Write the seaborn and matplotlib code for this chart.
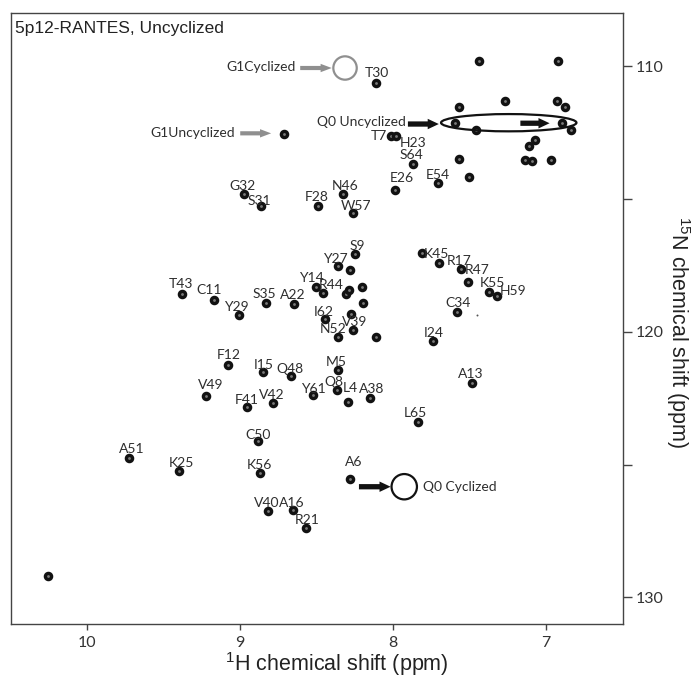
import matplotlib
matplotlib.use("Agg")
import matplotlib.pyplot as plt
import pandas as pd
import seaborn as sns
from matplotlib.patches import Ellipse

# ---------------- data ----------------
title = "5p12-RANTES, Uncyclized"
x_label = r"$^{1}$H chemical shift (ppm)"
y_label = r"$^{15}$N chemical shift (ppm)"

peak_labels = ["T30", "T7", "H23", "S64", "E26", "E54", "G32", "S31", "F28", "N46",
               "W57", "S9", "Y27", "Y14", "R44", "T43", "C11", "S35", "A22", "Y29",
               "I62", "V39", "N52", "K45", "R17", "R47", "K55", "H59", "C34", "I24",
               "A13", "L65", "F12", "I15", "Q48", "M5", "Q8", "Y61", "L4", "A38",
               "V49", "F41", "V42", "C50", "A51", "K25", "K56", "A6", "V40", "A16",
               "R21"]
peak_h = [8.113, 8.012, 7.984, 7.872, 7.991, 7.706, 8.974, 8.863, 8.491, 8.331,
          8.261, 8.250, 8.363, 8.506, 8.461, 9.380, 9.174, 8.830, 8.648, 9.007,
          8.446, 8.265, 8.363, 7.815, 7.700, 7.560, 7.374, 7.322, 7.580, 7.739,
          7.482, 7.841, 9.080, 8.848, 8.667, 8.359, 8.369, 8.526, 8.297, 8.152,
          9.224, 8.956, 8.787, 8.885, 9.729, 9.402, 8.870, 8.282, 8.819, 8.656,
          8.569]
peak_n = [110.64, 112.62, 112.62, 113.67, 114.67, 114.40, 114.79, 115.25, 115.24, 114.82,
          115.51, 117.05, 117.53, 118.31, 118.52, 118.56, 118.78, 118.91, 118.96, 119.37,
          119.53, 119.91, 120.19, 117.03, 117.41, 117.64, 118.50, 118.65, 119.25, 120.35,
          121.92, 123.41, 121.25, 121.50, 121.67, 121.44, 122.17, 122.38, 122.63, 122.48,
          122.42, 122.82, 122.67, 124.11, 124.74, 125.24, 125.32, 125.54, 126.73, 126.70,
          127.39]

# label offsets from their peak (pixels)
label_dx = [1, -13, 17, -1, 7, 0, -1.5, -2, -1.5, 2.2,
            3.2, 2, -2.7, -4.2, 8.8, -0.7, -4.3, -2, -1, -2.5,
            -1, 2, -4.7, 15, 20.2, 16.8, 3.7, 16.5, 0.3, 0.7,
            -1.4, -2.4, 0.3, 0, -1.7, -1.6, -2.7, 0.3, 2.8, 1.7,
            4.3, 0, -1, 0.6, 3.4, 2.7, -1, 3.3, -1.7, -0.7,
            0.7]
label_dy = [-11.2, -1.5, 5.7, -9.8, -13.3, -9.4, -9, -6.3, -10, -10,
            -8.3, -8.3, -8.5, -10.2, -8.3, -10.8, -10.3, -10.2, -10, -9,
            -8.3, -8.3, -9.2, -0.2, -3.7, 0, -10.7, -6, -10, -9.3,
            -10.2, -10.6, -11, -7.7, -8.5, -9, -8.3, -7.5, -14.7, -10.2,
            -12, -7.9, -8.7, -7, -10.2, -9, -9.3, -18, -9, -8.3,
            -9.3]

other_h = [8.711, 8.282, 8.309, 8.287, 8.206, 8.196, 8.276, 8.113, 7.511, 10.257,
           7.439, 6.924, 7.569, 7.271, 6.928, 6.875, 7.598, 7.462, 6.895, 6.836,
           7.076, 7.113, 7.569, 7.141, 7.093, 6.967, 7.504]
other_n = [112.53, 117.65, 118.56, 118.43, 118.31, 118.91, 119.31, 120.19, 118.12, 129.21,
           109.79, 109.79, 111.52, 111.32, 111.32, 111.52, 112.14, 112.39, 112.14, 112.39,
           112.76, 113.01, 113.48, 113.51, 113.55, 113.51, 114.15]

noise_h = [7.452]
noise_n = [119.37]

x_ticks = [10, 9, 8, 7]
y_ticks = [110, 115, 120, 125, 130]
y_tick_labels = ["110", "", "120", "", "130"]

# ---------------- style ----------------
sns.set_style("white")
plt.rcParams["font.family"] = ["Liberation Sans", "DejaVu Sans"]
plt.rcParams["mathtext.fontset"] = "custom"
plt.rcParams["mathtext.rm"] = "Liberation Sans"
plt.rcParams["mathtext.it"] = "Liberation Sans:italic"
plt.rcParams["mathtext.bf"] = "Liberation Sans:bold"

label_font = "Lato"
dark = "#121212"
txt = "#2e2e2e"
grey = "#8f8f8f"

fig = plt.figure(figsize=(6.92, 6.79), dpi=100)
ax = fig.add_axes([0.0155, 0.0810, 0.8844, 0.8994])

peaks = pd.DataFrame({"H": peak_h + other_h, "N": peak_n + other_n})
sns.scatterplot(data=peaks, x="H", y="N", ax=ax, s=20, color="#7a7a7a",
                edgecolor=dark, linewidth=2.4, zorder=3, legend=False)
noise = pd.DataFrame({"H": noise_h, "N": noise_n})
sns.scatterplot(data=noise, x="H", y="N", ax=ax, s=2, color="#555555",
                linewidth=0, zorder=3, legend=False)

px2pt = 0.72
for lab, h, n, dx, dy in zip(peak_labels, peak_h, peak_n, label_dx, label_dy):
    ax.annotate(lab, (h, n), xytext=(dx * px2pt, -dy * px2pt - 0.8),
                textcoords="offset points", ha="center", va="center",
                fontsize=10, color=txt, family=label_font, zorder=4)

# ---------------- annotations ----------------
def arrow(x0, x1, y, color, tail=0.3, head_w=0.6, head_l=0.8):
    ax.annotate("", xy=(x1, y), xytext=(x0, y),
                arrowprops=dict(arrowstyle=f"simple,head_length={head_l},head_width={head_w},tail_width={tail}",
                                fc=color, ec=color, lw=0, mutation_scale=10,
                                shrinkA=0, shrinkB=0), zorder=5)

# G1 cyclized (grey)
ax.text(8.635, 110.02, "G1Cyclized", ha="right", va="center", fontsize=10,
        color=txt, family=label_font)
arrow(8.608, 8.402, 110.06, grey)
ax.add_patch(Ellipse((8.315, 110.06), 0.153, 0.88, fill=False, ec=grey, lw=1.6, zorder=5))

# G1 uncyclized (grey)
ax.text(9.033, 112.50, "G1Uncyclized", ha="right", va="center", fontsize=10,
        color=txt, family=label_font)
arrow(9.000, 8.798, 112.52, grey)

# Q0 uncyclized (black)
ax.text(7.917, 112.10, "Q0 Uncyclized", ha="right", va="center", fontsize=10,
        color=txt, family=label_font)
arrow(7.904, 7.702, 112.17, dark, tail=0.38, head_w=0.75)
ax.add_patch(Ellipse((7.245, 112.12), 0.885, 0.65, fill=False, ec=dark, lw=1.6, zorder=5))
arrow(7.169, 6.978, 112.14, dark, tail=0.38, head_w=0.75)

# Q0 cyclized (black)
arrow(8.224, 8.017, 125.83, dark, tail=0.38, head_w=0.75)
ax.add_patch(Ellipse((7.928, 125.83), 0.166, 0.955, fill=False, ec=dark, lw=1.6, zorder=5))
ax.text(7.804, 125.83, "Q0 Cyclized", ha="left", va="center", fontsize=10,
        color=txt, family=label_font)

# title
ax.text(0.007, 0.967, title, transform=ax.transAxes, ha="left", va="baseline",
        fontsize=12.5, color="#222222")

# ---------------- axes ----------------
ax.set_xlim(10.5, 6.5)
ax.set_ylim(131, 108)
ax.set_xlabel("")
ax.set_ylabel("")
ax.yaxis.tick_right()
ax.set_xticks(x_ticks)
ax.set_xticklabels([str(t) for t in x_ticks])
ax.set_yticks(y_ticks)
ax.set_yticklabels(y_tick_labels)
for lab in ax.get_xticklabels() + ax.get_yticklabels():
    lab.set_family(label_font)
    lab.set_fontsize(11.5)
    lab.set_color("#333333")
ax.tick_params(axis="y", which="major", direction="out", length=6.5, width=1.0,
               color="#444444", pad=2.5, left=False, right=True)
ax.tick_params(axis="x", which="major", direction="out", length=4.5, width=1.0,
               color="#444444", pad=4.0, bottom=True)
for sp in ax.spines.values():
    sp.set_color("#444444")
    sp.set_linewidth(1.0)

fig.text(336.7 / 692, 1 - 671 / 679, x_label, ha="center", va="baseline",
         fontsize=15.5, color="#222222")
fig.text(678 / 692, 1 - 332 / 679, y_label, ha="center", va="center",
         rotation=270, fontsize=15.5, color="#222222")

fig.savefig("out.png", dpi=100)
